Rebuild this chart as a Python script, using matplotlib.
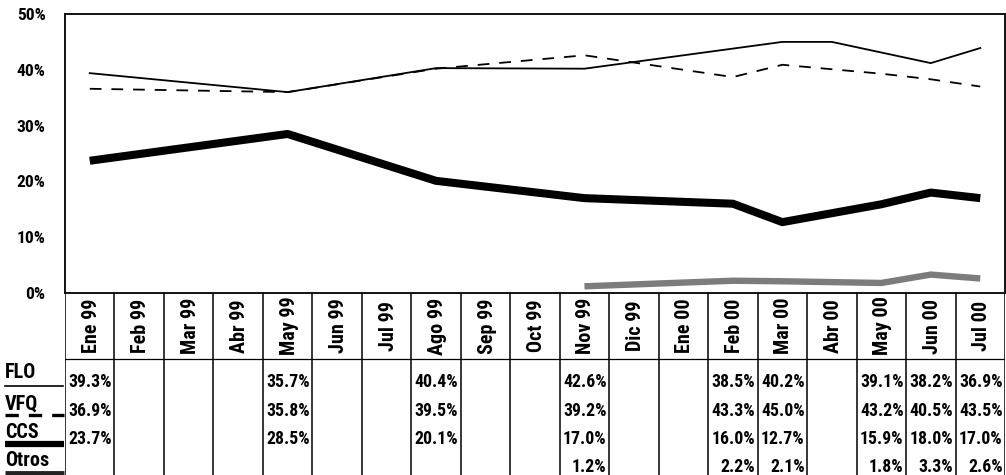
import numpy as np
import matplotlib
matplotlib.use("Agg")
import matplotlib.pyplot as plt
import matplotlib.font_manager as fm

# condensed bold face like the scanned original, if one is installed
installed = {f.name for f in fm.fontManager.ttflist}
narrow = [n for n in ['Liberation Sans Narrow', 'Arial Narrow', 'Roboto Condensed']
          if n in installed]
plt.rcParams['font.family'] = narrow + ['Liberation Sans', 'DejaVu Sans']
plt.rcParams['font.weight'] = 'bold'
k = 1.0 if narrow else 0.8   # shrink when no condensed face exists

nan = np.nan

months = ['Ene 99', 'Feb 99', 'Mar 99', 'Abr 99', 'May 99', 'Jun 99', 'Jul 99',
          'Ago 99', 'Sep 99', 'Oct 99', 'Nov 99', 'Dic 99', 'Ene 00', 'Feb 00',
          'Mar 00', 'Abr 00', 'May 00', 'Jun 00', 'Jul 00']

# values printed in the table
flo = [39.3, nan, nan, nan, 35.7, nan, nan, 40.4, nan, nan, 42.6, nan, nan, 38.5, 40.2, nan, 39.1, 38.2, 36.9]
vfq = [36.9, nan, nan, nan, 35.8, nan, nan, 39.5, nan, nan, 39.2, nan, nan, 43.3, 45.0, nan, 43.2, 40.5, 43.5]
ccs = [23.7, nan, nan, nan, 28.5, nan, nan, 20.1, nan, nan, 17.0, nan, nan, 16.0, 12.7, nan, 15.9, 18.0, 17.0]
otros = [nan, nan, nan, nan, nan, nan, nan, nan, nan, nan, 1.2, nan, nan, 2.2, 2.1, nan, 1.8, 3.3, 2.6]

# lines as they are drawn in the chart (thin solid / dashed)
solid_line = [39.4, nan, nan, nan, 36.0, nan, nan, 40.3, nan, nan, 40.2, nan, nan, nan, 45.0, 45.0, nan, 41.2, 43.9]
dashed_line = [36.6, nan, nan, nan, 36.0, nan, nan, 40.2, nan, nan, 42.6, nan, nan, 38.7, 40.9, nan, 39.3, 38.3, 37.0]

row_names = ['FLO', 'VFQ', 'CCS', 'Otros']
table_rows = [flo, vfq, ccs, otros]

W, H = 1006, 475
fig = plt.figure(figsize=(W / 100, H / 100), dpi=100)

x = np.arange(len(months))


def pts(vals):
    v = np.array(vals, dtype=float)
    m = ~np.isnan(v)
    return x[m], v[m]


# main chart
ax = fig.add_axes([65 / W, 1 - 293 / H, 940 / W, 279 / H])
ax.set_xlim(-0.5, len(months) - 0.5)
ax.set_ylim(0, 50)
ax.plot(*pts(solid_line), color='black', lw=1.3)
ax.plot(*pts(dashed_line), color='black', lw=1.3, dashes=(6.5, 5.5))
ax.plot(*pts(ccs), color='black', lw=5.8, solid_capstyle='butt', solid_joinstyle='round')
ax.plot(*pts(otros), color='#7c7c7c', lw=4.6, solid_capstyle='butt')
ax.set_xticks([])
ax.set_yticks(range(0, 51, 10))
ax.set_yticklabels([f'{v}%' for v in range(0, 51, 10)], fontsize=12.5 * k, fontweight='bold')
ax.tick_params(axis='y', length=0, pad=14)
for s in ax.spines.values():
    s.set_linewidth(1.3)

# data table under the chart
tab = fig.add_axes([65 / W, 0, 940 / W, 182 / H])
tab.set_xlim(ax.get_xlim())
tab.set_ylim(182, 0)
tab.axis('off')
for b in np.arange(-0.5, len(months), 1.0):
    tab.axvline(b, color='black', lw=1.1)
tab.axhline(66, color='black', lw=0.9)
for i, m in enumerate(months):
    tab.text(i + 0.03, 33, m, rotation=90, ha='center', va='center', fontsize=14.5 * k, fontweight='bold')
row_y = [89, 118, 146, 174]
for vals, ry in zip(table_rows, row_y):
    for i, v in enumerate(vals):
        if not np.isnan(v):
            tab.text(i + 0.45, ry, f'{v:.1f}%', ha='right', va='center', fontsize=12.8 * k, fontweight='bold')

# row labels with line samples
ov = fig.add_axes([0, 0, 1, 1])
ov.set_xlim(0, W)
ov.set_ylim(H, 0)
ov.axis('off')
label_y = [373, 404, 432, 461]
for name, ly in zip(row_names, label_y):
    ov.text(5, ly, name, ha='left', va='center', fontsize=14.5 * k, fontweight='bold')
ov.plot([5, 63], [386, 386], color='black', lw=1.2)
ov.plot([5, 64], [415, 415], color='black', lw=2.4, dashes=(4, 3))
ov.plot([5, 64], [444, 444], color='black', lw=4.5, solid_capstyle='butt')
ov.plot([5, 64], [473, 473], color='#222222', lw=3.5, solid_capstyle='butt')

fig.savefig('out.png', dpi=100)
